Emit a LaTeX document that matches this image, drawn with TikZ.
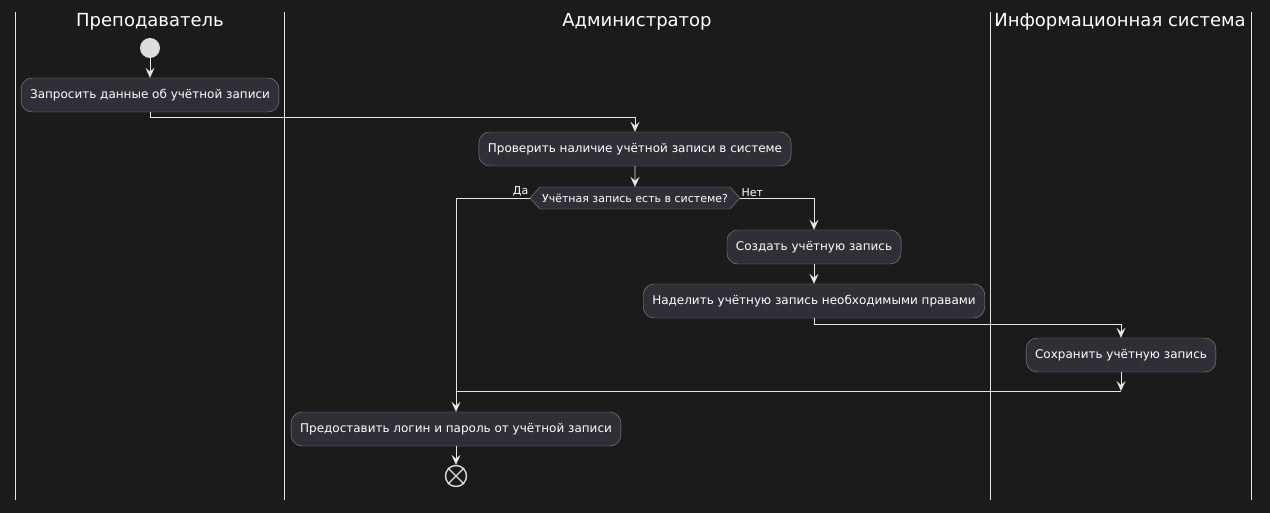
\documentclass[tikz,border=0pt]{standalone}
\usepackage{fontspec}
\setmainfont{DejaVu Sans}
\usetikzlibrary{arrows.meta,shapes.symbols}
\definecolor{bgcol}{HTML}{1B1B1C}
\definecolor{boxfill}{HTML}{2F2F38}
\definecolor{boxline}{HTML}{8C8C8C}
\definecolor{linecol}{HTML}{E6E6E6}
\definecolor{startcol}{HTML}{DDDDDD}

\begin{document}
\begin{tikzpicture}[x=1pt, y=-1pt,
	activity/.style={draw=boxline, fill=boxfill, rounded corners=11pt, text=white, font=\fontsize{12}{14}\selectfont, minimum height=34pt, inner xsep=9pt},
	question/.style={draw=boxline, fill=boxfill, text=white, shape=signal, signal to=west and east, signal pointer angle=95, font=\fontsize{11}{13}\selectfont, minimum height=22pt, inner xsep=2pt, inner ysep=1pt},
	lanetitle/.style={text=white, font=\fontsize{18}{20}\selectfont},
	lane/.style={draw=linecol, line width=1pt},
	link/.style={draw=linecol, line width=0.8pt},
	flow/.style={link, -{Stealth[length=10pt, width=9pt, inset=4pt]}},
	answer/.style={text=white, font=\fontsize{11}{13}\selectfont, inner sep=1pt}]
	\fill[bgcol] (0,0) rectangle (1270,513);
	\useasboundingbox (0,0) rectangle (1270,513);
	% swimlanes
	\foreach \x in {15,284,990,1251}
		\draw[lane] (\x,12) -- (\x,500);
	\node[lanetitle] (teacher) at (150,22) {Преподаватель};
	\node[lanetitle] (admin) at (637,22) {Администратор};
	\node[lanetitle] (system) at (1120,22) {Информационная система};
	% activities
	\node[circle, fill=startcol, minimum size=20pt, inner sep=0pt] (start) at (150,48) {};
	\node[activity] (ask) at (150,95) {Запросить данные об учётной записи};
	\node[activity] (check) at (635,149) {Проверить наличие учётной записи в системе};
	\node[question] (known) at (635,198) {Учётная запись есть в системе?};
	\node[activity] (create) at (814,247) {Создать учётную запись};
	\node[activity] (rights) at (814,301) {Наделить учётную запись необходимыми правами};
	\node[activity] (save) at (1121,355) {Сохранить учётную запись};
	\node[activity] (grant) at (456,429) {Предоставить логин и пароль от учётной записи};
	\node[circle, draw=startcol, line width=1.4pt, minimum size=21pt, inner sep=0pt] (stop) at (456,476) {};
	\draw[startcol, line width=1.4pt] (stop.north west) -- (stop.south east) (stop.north east) -- (stop.south west);
	\coordinate (merge) at (1121,391);
	% flows
	\draw[flow] (start) -- (ask);
	\draw[flow] (ask.south) -- ++(0,5) -| (check.north);
	\draw[flow] (check) -- (known);
	\draw[flow] (known.west) node[answer, above left] {Да} -| (grant.north);
	\draw[flow] (known.east) node[answer, above right] {Нет} -| (create.north);
	\draw[flow] (create) -- (rights);
	\draw[flow] (rights.south) -- ++(0,6) -| (save.north);
	\draw[flow] (save) -- (merge);
	\draw[link] (merge) -- (merge -| grant);
	\draw[flow] (grant) -- (stop);
\end{tikzpicture}
\end{document}
